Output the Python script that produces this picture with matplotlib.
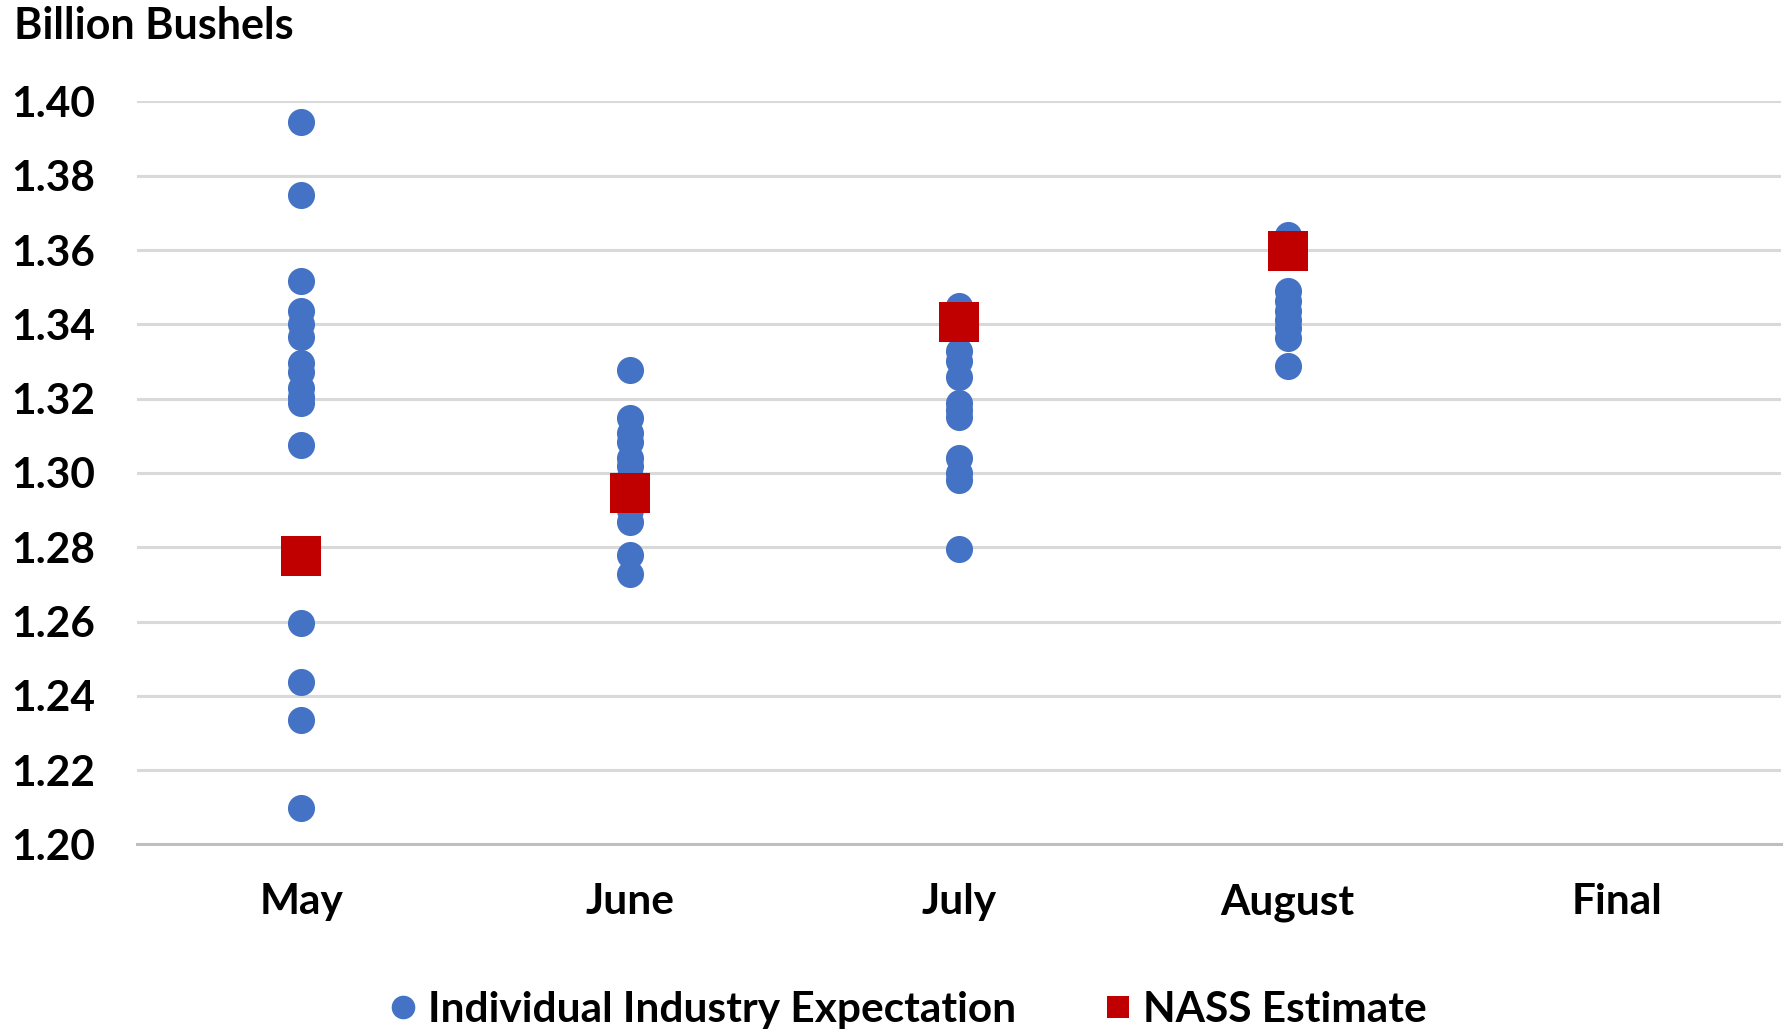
import matplotlib.pyplot as plt
from matplotlib.lines import Line2D

months = ['May', 'June', 'July', 'August', 'Final']

# individual industry expectations (billion bushels)
may = [1.3946, 1.3747, 1.3517, 1.3437, 1.3400, 1.3366, 1.3295, 1.3273,
       1.3228, 1.3205, 1.3189, 1.3076, 1.2597, 1.2436, 1.2335, 1.2097]
june = [1.3277, 1.3147, 1.3107, 1.3084, 1.3040, 1.3018, 1.2990, 1.2960,
        1.2900, 1.2867, 1.2778, 1.2727]
july = [1.3449, 1.3329, 1.3302, 1.3258, 1.3187, 1.3170, 1.3151, 1.3040,
        1.3000, 1.2982, 1.2796]
august = [1.3640, 1.3489, 1.3462, 1.3436, 1.3413, 1.3391, 1.3364, 1.3287]
expectations = [may, june, july, august, []]

# NASS estimates
nass = [1.2777, 1.2947, 1.3407, 1.3597]

blue = '#4472C4'
red = '#C00000'
font = 'Lato'

fig = plt.figure(figsize=(17.87, 10.33), dpi=100)
ax = fig.add_axes([0.0767, 0.1825, 0.9199, 0.7193])

for i, vals in enumerate(expectations):
    ax.plot([i] * len(vals), vals, 'o', color=blue, markersize=19.5,
            markeredgewidth=0, zorder=3)
ax.plot(range(len(nass)), nass, 's', color=red, markersize=29,
        markeredgewidth=0, zorder=4)

ax.set_xlim(-0.5, 4.5)
ax.set_ylim(1.20, 1.40)
yt = [1.20 + 0.02 * k for k in range(11)]
ax.set_yticks(yt)
ax.set_yticklabels(['%.2f' % v for v in yt])
ax.set_xticks(range(len(months)))
ax.set_xticklabels(months)

ax.grid(axis='y', color='#D9D9D9', linewidth=2.2, zorder=0)
ax.set_axisbelow(True)
for s in ['top', 'right', 'left']:
    ax.spines[s].set_visible(False)
ax.spines['bottom'].set_color('#BFBFBF')
ax.spines['bottom'].set_linewidth(2.2)
ax.tick_params(axis='both', length=0, labelsize=30.5)
ax.tick_params(axis='y', pad=30)
ax.tick_params(axis='x', pad=28)
for t in ax.get_xticklabels() + ax.get_yticklabels():
    t.set_fontfamily(font)
    t.set_fontweight('bold')

fig.text(0.008, 0.975, 'Billion Bushels', fontsize=31, fontweight='bold',
         family=font, va='center', ha='left')

handles = [
    Line2D([], [], marker='o', linestyle='', color=blue, markersize=17,
           markeredgewidth=0, label='Individual Industry Expectation'),
    Line2D([], [], marker='s', linestyle='', color=red, markersize=16,
           markeredgewidth=0, label='NASS Estimate'),
]
fig.legend(handles=handles, loc='center', bbox_to_anchor=(0.506, 0.022),
           ncol=2, frameon=False, handletextpad=0.1, columnspacing=1.9,
           handlelength=1.0, prop={'family': font, 'weight': 'bold', 'size': 30.5})

fig.savefig('out.png', dpi=100)
